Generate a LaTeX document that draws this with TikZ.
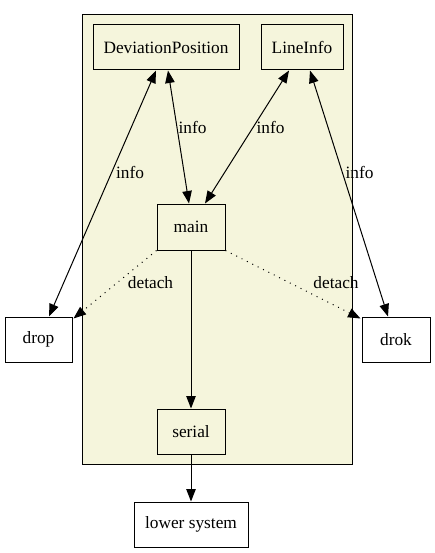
\documentclass[tikz,border=0pt]{standalone}
\usepackage{fontspec}
\setmainfont{Liberation Serif}
\usetikzlibrary{arrows.meta}
\definecolor{clusterbg}{HTML}{F5F5DC}
\tikzset{
  box/.style={draw=black, line width=1pt, rectangle, inner sep=0pt, font=\fontsize{17.3}{20}\selectfont},
  lbl/.style={inner sep=0pt, font=\fontsize{17.3}{20}\selectfont},
  edge/.style={line width=1pt, draw=black},
  tip/.style={-{Triangle[length=12.5pt,width=9.5pt]}},
  bitip/.style={{Triangle[length=12.5pt,width=9.5pt]}-{Triangle[length=12.5pt,width=9.5pt]}},
  dots/.style={line width=1pt, dash pattern=on 1pt off 5pt}
}
\begin{document}
\begin{tikzpicture}[x=1pt,y=-1pt]
\useasboundingbox (0,0) rectangle (435,553);
\draw[fill=clusterbg, draw=black, line width=1pt] (82,15) rectangle (352,464);
\node[box, minimum width=146pt, minimum height=45pt] (dev) at (166,47.5) {DeviationPosition};
\node[box, minimum width=82pt, minimum height=45pt] (li) at (302,47.5) {LineInfo};
\node[box, minimum width=68pt, minimum height=46pt] (main) at (191,227) {main};
\node[box, minimum width=68pt, minimum height=45pt] (serial) at (191,431.5) {serial};
\node[box, fill=white, minimum width=67pt, minimum height=45pt] (drop) at (38.5,339.5) {drop};
\node[box, fill=white, minimum width=68pt, minimum height=45pt] (drok) at (396,339.5) {drok};
\node[box, fill=white, minimum width=114pt, minimum height=45pt] (lower) at (191,524.5) {lower system};

\draw[edge, bitip] ([xshift=2pt]dev.south) -- ([xshift=-2pt]main.north);
\draw[edge, bitip] ([xshift=-10pt]dev.south) -- ([xshift=10.5pt]drop.north);
\draw[edge, bitip] ([xshift=-13pt]li.south) -- ([xshift=14pt]main.north);
\draw[edge, bitip] ([xshift=8pt]li.south) -- ([xshift=-8pt]drok.north);
\draw[edge, tip] (main.south) -- (serial.north);
\draw[edge, tip] (serial.south) -- (lower.north);
\draw[dots, tip] (main.south west) -- ([xshift=1pt,yshift=-2pt]drop.north east);
\draw[dots, tip] (main.south east) -- ([xshift=-1pt,yshift=-2pt]drok.north west);

\node[lbl] (l1) at (130,172) {info};
\node[lbl] (l2) at (192.5,127) {info};
\node[lbl] (l3) at (270.5,127) {info};
\node[lbl] (l4) at (359.5,172) {info};
\node[lbl] (l5) at (150.5,283) {detach};
\node[lbl] (l6) at (336,283) {detach};
\end{tikzpicture}
\end{document}
